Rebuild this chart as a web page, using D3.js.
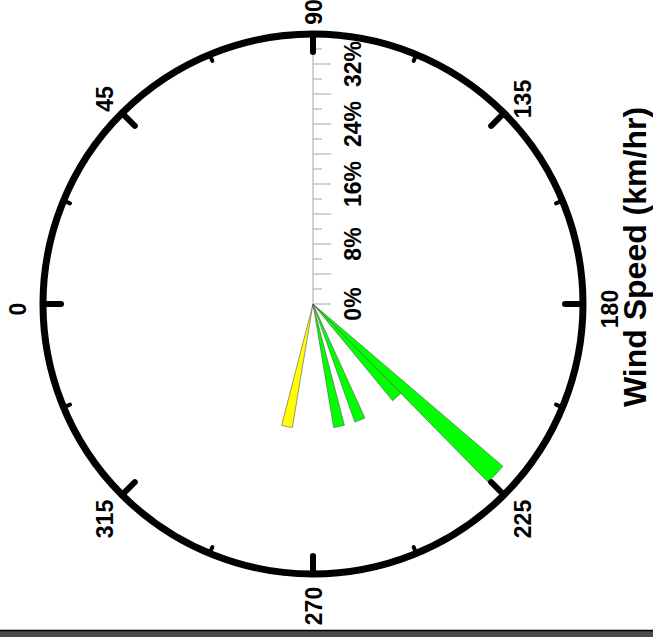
<!DOCTYPE html>
<html>
<head>
<meta charset="utf-8">
<script src="https://cdn.jsdelivr.net/npm/d3@7"></script>
<style>
  body { margin: 0; background: #fff; overflow: hidden; }
  text { font-family: "Liberation Sans", Arial, sans-serif; font-weight: bold; fill: #000; }
</style>
</head>
<body>
<script>
// wind rose data (direction in degrees, frequency in percent)
let directions = [282, 258, 248, 228, 223];
let percents = [16.7, 16.7, 16.7, 16.7, 33.3];
let colors = ["#ffff00", "#00ff00", "#00ff00", "#00ff00", "#00ff00"];
let dir_ticks = [0, 45, 90, 135, 180, 225, 270, 315];
let pct_ticks = [0, 8, 16, 24, 32];
let legend_title = "Wind Speed (km/hr)";

let width = 653, height = 637;
let R = 270;
let cx = 333, cy = 313;   // centre inside the rotated group

let rad = d => d * Math.PI / 180;

let svg = d3.select("body")
  .append("svg")
    .attr("width", width)
    .attr("height", height);

// whole chart is turned a quarter turn counter-clockwise
let g = svg.append("g")
  .attr("transform", `translate(0,${height}) rotate(-90)`);

let r = d3.scaleLinear().domain([0, 36]).range([0, R]);

let root = g.append("g").attr("transform", `translate(${cx},${cy})`);

// radial axis (towards 90)
root.append("line")
  .attr("x1", 0).attr("x2", r(36)).attr("y1", 0).attr("y2", 0)
  .attr("stroke", "#b4b4b4").attr("stroke-width", 1.2);
d3.range(0, 35, 2).forEach(p => {
  let len = (p % 4 == 0) ? 18 : 9;
  root.append("line")
    .attr("x1", r(p)).attr("x2", r(p)).attr("y1", 0).attr("y2", len)
    .attr("stroke", "#b4b4b4").attr("stroke-width", 1.2);
});
root.selectAll("text.pct")
  .data(pct_ticks)
  .join("text")
    .attr("class", "pct")
    .attr("x", d => r(d))
    .attr("y", 40)
    .attr("dy", "0.35em")
    .attr("text-anchor", "middle")
    .attr("font-size", 23)
    .text(d => d + "%");

// wedges
let arc = d3.arc().innerRadius(0);
let order = d3.range(directions.length).sort((a, b) => percents[b] - percents[a]);
order.forEach(i => {
  root.append("path")
    .attr("d", arc({
      outerRadius: r(percents[i]),
      startAngle: rad(directions[i] - 2.5),
      endAngle: rad(directions[i] + 2.5)
    }))
    .attr("fill", colors[i])
    .attr("stroke", "#555")
    .attr("stroke-width", 0.6);
});

// outer circle with direction ticks
root.append("circle")
  .attr("r", R)
  .attr("fill", "none")
  .attr("stroke", "#000")
  .attr("stroke-width", 7);

d3.range(0, 360, 22.5).forEach(d => {
  let major = (d % 45 == 0);
  let len = major ? 18 : 7;
  let a = rad(d);
  root.append("line")
    .attr("x1", Math.sin(a) * R).attr("y1", -Math.cos(a) * R)
    .attr("x2", Math.sin(a) * (R - len)).attr("y2", -Math.cos(a) * (R - len))
    .attr("stroke", "#000")
    .attr("stroke-width", major ? 6 : 4)
    .attr("stroke-linecap", "round");
});

// direction labels sit a little off-centre, as in the original
root.selectAll("text.dir")
  .data(dir_ticks)
  .join("text")
    .attr("class", "dir")
    .attr("x", d => Math.sin(rad(d)) * (R + 27) - 5)
    .attr("y", d => -Math.cos(rad(d)) * (R + 26) + 1)
    .attr("dy", "0.35em")
    .attr("text-anchor", "middle")
    .attr("font-size", 23)
    .text(d => d);

// legend title (legend itself is cut off below)
g.append("text")
  .attr("x", 380)
  .attr("y", 635)
  .attr("dy", "0.35em")
  .attr("text-anchor", "middle")
  .attr("font-size", 32)
  .text(legend_title);

// dark strip at the bottom edge
svg.append("rect")
  .attr("x", 0).attr("y", 631).attr("width", width).attr("height", 6)
  .attr("fill", "#4a4a4a");
svg.append("line")
  .attr("x1", 0).attr("x2", width).attr("y1", 630.5).attr("y2", 630.5)
  .attr("stroke", "#000").attr("stroke-width", 1.5);
</script>
</body>
</html>
